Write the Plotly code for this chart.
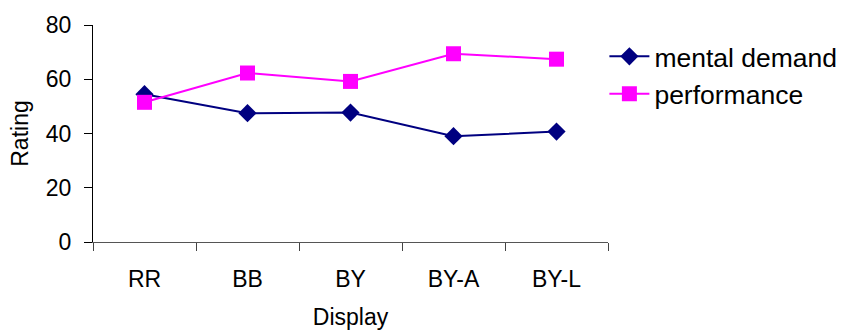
import plotly.graph_objects as go

# Ratings per display condition
displays = ["RR", "BB", "BY", "BY-A", "BY-L"]
mental_demand = [54.5, 47.5, 47.7, 39.0, 40.7]
performance = [51.5, 62.3, 59.2, 69.4, 67.4]
y_ticks = [0, 20, 40, 60, 80]

FONT = "Liberation Sans, Arial, sans-serif"

fig = go.Figure()
fig.add_trace(go.Scatter(
    x=displays, y=mental_demand, name="mental demand",
    mode="lines+markers",
    line=dict(color="#000080", width=2),
    marker=dict(symbol="diamond", size=14, color="#000080"),
))
fig.add_trace(go.Scatter(
    x=displays, y=performance, name="performance",
    mode="lines+markers",
    line=dict(color="#FF00FF", width=2),
    marker=dict(symbol="square", size=15, color="#FF00FF"),
))

fig.update_layout(
    width=845, height=331,
    margin=dict(l=93, r=237, t=25, b=89, autoexpand=False),
    paper_bgcolor="white", plot_bgcolor="white",
    font=dict(family=FONT, size=23, color="black"),
    showlegend=True,
    legend=dict(x=0.993, y=0.965, xanchor="left", yanchor="top",
                font=dict(size=26.5), itemwidth=40, tracegroupgap=0,
                bgcolor="rgba(0,0,0,0)"),
    xaxis=dict(
        type="category", range=[-0.5, 4.5], tickson="boundaries",
        ticks="outside", ticklen=8, tickcolor="#444", tickwidth=1,
        showline=True, linecolor="#555", linewidth=1,
        showgrid=False, zeroline=False, ticklabelstandoff=16,
        tickfont=dict(size=23),
        title=dict(text="Display", standoff=18, font=dict(size=23)),
    ),
    yaxis=dict(
        range=[0, 80], tickvals=y_ticks,
        ticks="outside", ticklen=8, tickcolor="black", tickwidth=1,
        showline=True, linecolor="black", linewidth=1,
        showgrid=False, zeroline=False, ticklabelstandoff=8,
        tickfont=dict(size=23),
        title=dict(text="Rating", standoff=10, font=dict(size=23)),
    ),
)

fig.write_html("out.html")
